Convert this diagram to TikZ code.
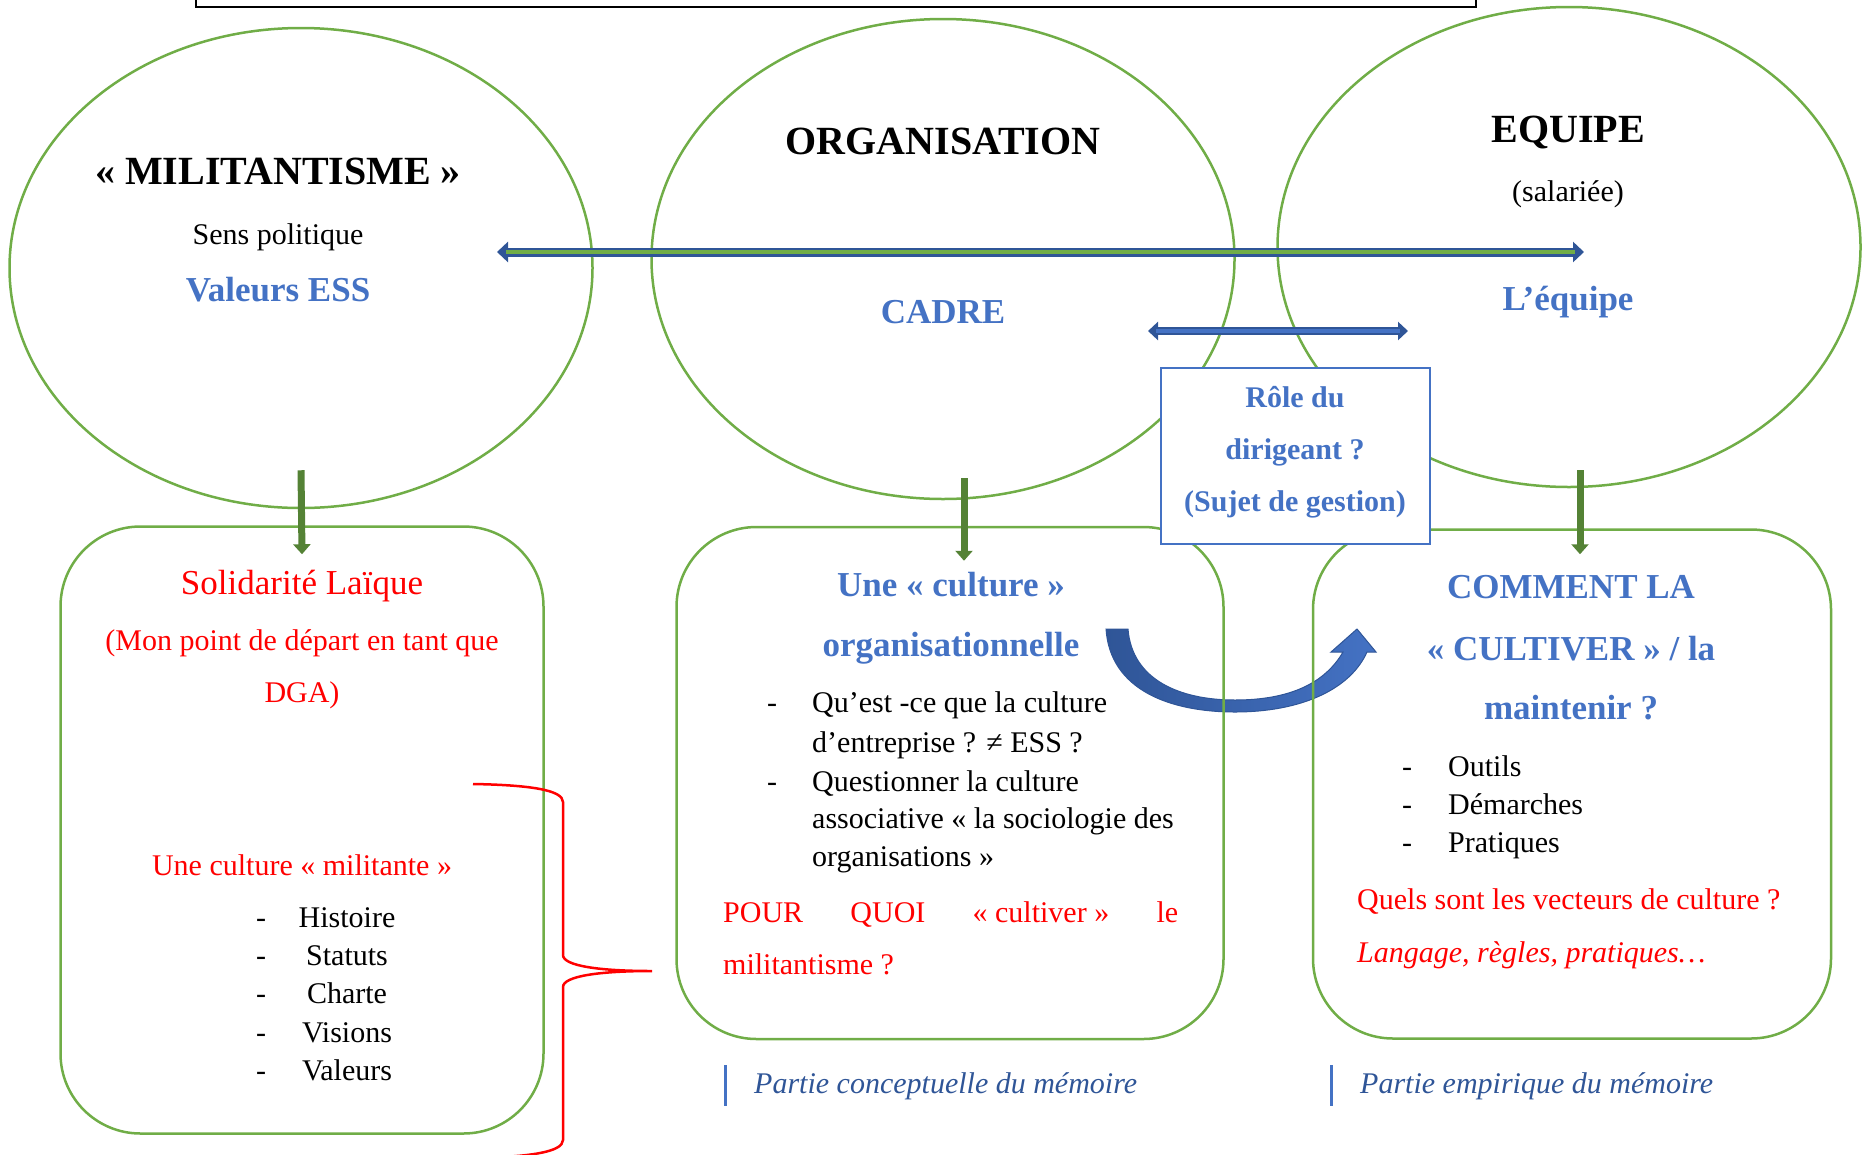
\documentclass[tikz,border=0pt]{standalone}
\usepackage{fontspec}
\setmainfont{Liberation Serif}
\usetikzlibrary{shapes.geometric,arrows.meta}
\definecolor{vert}{HTML}{70AD47}
\definecolor{vertfonce}{HTML}{548235}
\definecolor{bleu}{HTML}{4472C4}
\definecolor{bleufonce}{HTML}{2F5597}
\definecolor{rouge}{HTML}{FF0000}
\newcommand{\sz}[1]{\fontsize{#1}{#1}\selectfont}
\begin{document}
\begin{tikzpicture}[x=1pt,y=-1pt,
	bulle/.style={ellipse,draw=vert,line width=2.5pt,minimum width=583pt,minimum height=480pt},
	cadre/.style={draw=vert,line width=2.5pt,rounded corners=80pt},
	txt/.style={anchor=base,inner sep=0pt,font=\sz{30}},
	txtg/.style={anchor=base west,inner sep=0pt,font=\sz{30}},
	descente/.style={draw=vertfonce,line width=7pt,-{Triangle[length=10pt,width=17pt]}}]
	\useasboundingbox (0,0) rectangle (1870,1154);
	
	\node[draw,line width=2.5pt,minimum width=1280pt,minimum height=60pt] (H) at (836,-23) {};
	
	\node[bulle] (M) at (301,268) {};
	\node[bulle] (O) at (943,259) {};
	\node[bulle] (E) at (1569,247) {};
	
	% fleche courbe entre les deux boites
	\shadedraw[left color=bleufonce,right color=bleu,draw=bleufonce,line width=1pt]
		(1106,629) .. controls (1110,690) and (1170,712) .. (1235,712)
		.. controls (1300,712) and (1350,690) .. (1367,652) -- (1376,652) -- (1357,629)
		-- (1331,652) -- (1343,652) .. controls (1325,683) and (1290,700) .. (1235,700)
		.. controls (1180,700) and (1132,680) .. (1128,629) -- cycle;
	
	\node[cadre,minimum width=483pt,minimum height=607pt] (S) at (302,830) {};
	\node[cadre,minimum width=547pt,minimum height=512pt] (C) at (950,783) {};
	\node[cadre,minimum width=518pt,minimum height=509pt] (K) at (1572,784) {};
	
	\node[draw=bleu,fill=white,line width=2pt,minimum width=269pt,minimum height=176pt] (R) at (1295,456) {};
	\node[align=center,text=bleu,font={\bfseries\fontsize{30}{52}\selectfont}] (r1) at ([yshift=4pt]R.center) {Rôle du\\dirigeant ?\\(Sujet de gestion)};
	
	\coordinate (g1) at (497,252);
	\coordinate (g2) at (1584,252);
	\draw[bleufonce,line width=9pt,{Triangle[length=11pt,width=20pt]}-{Triangle[length=11pt,width=20pt]}] (g1) -- (g2);
	\draw[vert,line width=4pt,shorten <=9pt,shorten >=9pt] (g1) -- (g2);
	\coordinate (d1) at (1148,331);
	\coordinate (d2) at (1408,331);
	\draw[bleufonce,line width=8pt,{Triangle[length=10pt,width=18pt]}-{Triangle[length=10pt,width=18pt]}] (d1) -- (d2);
	\draw[bleu,line width=4pt,shorten <=8pt,shorten >=8pt] (d1) -- (d2);
	
	\draw[descente] ([yshift=39pt]M.south) -- ([yshift=-29pt]S.north);
	\draw[descente] ([xshift=21pt,yshift=22pt]O.south) -- ([xshift=14pt,yshift=-35pt]C.north);
	\draw[descente] ([xshift=11pt,yshift=18pt]E.south) -- ([xshift=8pt,yshift=-26pt]K.north);
	
	% accolade
	\draw[rouge,line width=2.5pt] (473,784) .. controls (530,785) and (563,790) .. (563,802) -- (563,955)
		.. controls (563,966) and (600,971) .. (652,971) .. controls (600,971) and (563,976) .. (563,987)
		-- (563,1140) .. controls (563,1152) and (530,1157) .. (473,1158);
	
	\node[txt,font={\bfseries\sz{40}}] (m1) at (278,184) {« MILITANTISME »};
	\node[txt] (m2) at (278,244) {Sens politique};
	\node[txt,font={\bfseries\sz{35}},text=bleu] (m3) at (278,301) {Valeurs ESS};
	\node[txt,font={\bfseries\sz{40}}] (o1) at (943,154) {ORGANISATION};
	\node[txt,font={\bfseries\sz{35}},text=bleu] (o2) at (943,323) {CADRE};
	\node[txt,font={\bfseries\sz{40}}] (e1) at (1568,142) {EQUIPE};
	\node[txt] (e2) at (1568,201) {(salariée)};
	\node[txt,font={\bfseries\sz{35}},text=bleu] (e3) at (1568,310) {L’équipe};
	
	\node[txt,font={\sz{35}},text=rouge] (s1) at (302,594) {Solidarité Laïque};
	\node[txt,text=rouge] (s2) at (302,650) {(Mon point de départ en tant que};
	\node[txt,text=rouge] (s3) at (302,702) {DGA)};
	\node[txt,text=rouge] (s4) at (302,875) {Une culture « militante »};
	\foreach \t/\y in {Histoire/927,Statuts/965,Charte/1003,Visions/1042,Valeurs/1080}{
		\node[txt] at (261,\y) {-};
		\node[txt] at (347,\y) {\t};
	}
	
	\node[txt,font={\bfseries\sz{35}},text=bleu] (c1) at (951,596) {Une « culture »};
	\node[txt,font={\bfseries\sz{35}},text=bleu] (c2) at (951,656) {organisationnelle};
	\node[txt] at (772,712) {-};
	\node[txt] at (772,791) {-};
	\foreach \t/\y in {Qu’est -ce que la culture/712,d’entreprise ? ≠ ESS ?/752,Questionner la culture/791,
		associative « la sociologie des/828,organisations »/866}{
		\node[txtg] at (812,\y) {\t};
	}
	\node[txtg,text=rouge] (c3) at (723,922) {\makebox[455pt][s]{POUR QUOI \mbox{« cultiver »} le}};
	\node[txtg,text=rouge] (c4) at (723,974) {militantisme ?};
	
	\node[txt,font={\bfseries\sz{35}},text=bleu] (k1) at (1571,598) {COMMENT LA};
	\node[txt,font={\bfseries\sz{35}},text=bleu] (k2) at (1571,660) {« CULTIVER » / la};
	\node[txt,font={\bfseries\sz{35}},text=bleu] (k3) at (1571,719) {maintenir ?};
	\foreach \t/\y in {Outils/776,Démarches/814,Pratiques/852}{
		\node[txt] at (1407,\y) {-};
		\node[txtg] at (1448,\y) {\t};
	}
	\node[txtg,text=rouge] (k4) at (1357,909) {Quels sont les vecteurs de culture ?};
	\node[txtg,text=rouge,font={\itshape\sz{30}}] (k5) at (1357,962) {Langage, règles, pratiques…};
	
	\draw[bleu,line width=3pt] (725,1065) -- (725,1106);
	\node[txtg,text=bleufonce,font={\itshape\sz{30}}] (p1) at (754,1093) {Partie conceptuelle du mémoire};
	\draw[bleu,line width=3pt] (1331,1065) -- (1331,1106);
	\node[txtg,text=bleufonce,font={\itshape\sz{30}}] (p2) at (1360,1093) {Partie empirique du mémoire};
\end{tikzpicture}
\end{document}
